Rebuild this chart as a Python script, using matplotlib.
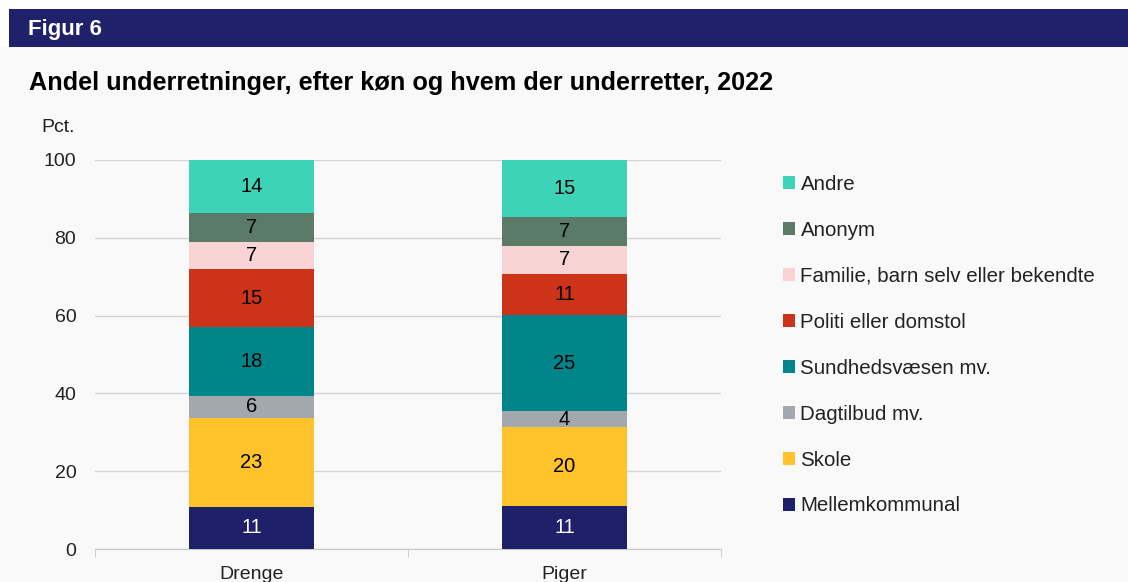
import matplotlib.pyplot as plt
from matplotlib.patches import Rectangle
import numpy as np

plt.rcParams["font.family"] = ["Liberation Sans", "DejaVu Sans"]

categories = ["Drenge", "Piger"]
series = [
    "Mellemkommunal",
    "Skole",
    "Dagtilbud mv.",
    "Sundhedsvæsen mv.",
    "Politi eller domstol",
    "Familie, barn selv eller bekendte",
    "Anonym",
    "Andre",
]
# andele i pct. (labels er afrundede)
drenge = [10.9, 22.8, 5.65, 17.65, 15.0, 6.95, 7.45, 13.6]
piger = [11.05, 20.3, 4.05, 24.7, 10.6, 7.3, 7.4, 14.6]
labels_drenge = [11, 23, 6, 18, 15, 7, 7, 14]
labels_piger = [11, 20, 4, 25, 11, 7, 7, 15]
colors = ["#1f206a", "#fec22a", "#a2a8ae", "#00868a",
          "#cc3318", "#f7d3d3", "#5b7a68", "#3dd3b8"]

BG = "#f9f9f9"
NAVY = "#1f216a"
TXT = "#222222"

fig = plt.figure(figsize=(11.28, 5.82), dpi=100, facecolor=BG)
W, H = 1128, 582

# header
fig.add_artist(Rectangle((0, 1 - 47 / H), 1, 47 / H, transform=fig.transFigure,
                         facecolor="white", edgecolor="none", zorder=0))
fig.add_artist(Rectangle((9 / W, 1 - 47 / H), 1 - 9 / W, 38 / H, transform=fig.transFigure,
                         facecolor=NAVY, edgecolor="none", zorder=1))
fig.text(28 / W, 1 - 29 / H, "Figur 6", color="white", fontsize=16, fontweight="bold",
         va="center", ha="left")
fig.text(29 / W, 1 - 83 / H, "Andel underretninger, efter køn og hvem der underretter, 2022",
         fontsize=18.2, fontweight="bold", va="center", ha="left")
fig.text(41 / W, 1 - 128 / H, "Pct.", fontsize=14, color=TXT, va="center", ha="left")

ax = fig.add_axes([95 / W, 1 - 549 / H, 626 / W, 389 / H])
ax.set_facecolor(BG)

x = np.arange(len(categories))
data = np.array([drenge, piger]).T
lab = np.array([labels_drenge, labels_piger]).T
bottom = np.zeros(len(categories))
handles = []
for i, name in enumerate(series):
    bars = ax.bar(x, data[i], 0.4, bottom=bottom, color=colors[i], label=name, zorder=3)
    handles.append(bars)
    txtcol = "white" if i == 0 else "black"
    for j in range(len(categories)):
        ax.text(x[j], bottom[j] + data[i][j] / 2, str(lab[i][j]), ha="center", va="center",
                fontsize=14.5, color=txtcol, zorder=4)
    bottom += data[i]

ax.set_xlim(-0.5, 1.5)
ax.set_ylim(0, 100)
ax.set_yticks([0, 20, 40, 60, 80, 100])
ax.yaxis.grid(True, color="#d4d4d4", linewidth=1)
ax.set_axisbelow(True)
for s in ["top", "right", "left"]:
    ax.spines[s].set_visible(False)
ax.spines["bottom"].set_color("#c8c8c8")
ax.tick_params(axis="y", length=0, pad=13.5, labelsize=14, labelcolor=TXT)
ax.set_xticks(x)
ax.set_xticklabels(categories)
ax.tick_params(axis="x", length=0, pad=12, labelsize=14, labelcolor=TXT)
ax.set_xticks([-0.5, 0.5, 1.5], minor=True)
ax.tick_params(axis="x", which="minor", length=6, color="#c8c8c8")

leg = ax.legend(handles[::-1], series[::-1], loc="upper left",
                bbox_to_anchor=(783 / W, 1 - 175 / H), bbox_transform=fig.transFigure,
                frameon=False, fontsize=14.8, handlelength=0.6, handleheight=0.6,
                handletextpad=0.25, labelspacing=1.31, borderaxespad=0, borderpad=0)
for t in leg.get_texts():
    t.set_color(TXT)

fig.savefig("out.png", dpi=100, facecolor=BG)
